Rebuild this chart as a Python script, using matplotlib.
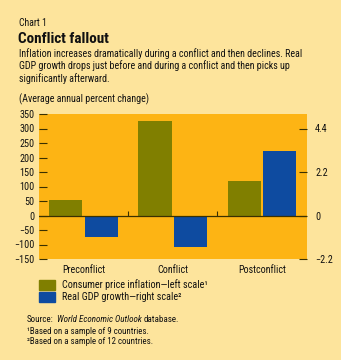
import matplotlib
matplotlib.use("Agg")
import matplotlib.pyplot as plt
from matplotlib.patches import Rectangle
import numpy as np

plt.rcParams['font.family'] = ['Roboto Condensed', 'DejaVu Sans']

# data
categories = ['Preconflict', 'Conflict', 'Postconflict']
cpi_inflation = [55, 325, 120]        # left scale, percent
gdp_growth = [-1.1, -1.6, 3.25]       # right scale, percent
left_ticks = [-150, -100, -50, 0, 50, 100, 150, 200, 250, 300, 350]
right_ticks = [-2.2, 0, 2.2, 4.4]

BG = '#fde49c'
PLOT_BG = '#fdb414'
OLIVE = '#807f00'
BLUE = '#0e4ba0'
DARK = '#3a3000'
TXT = '#111111'

W, H = 341, 360
fig = plt.figure(figsize=(W / 100, H / 100), dpi=100)
fig.patch.set_facecolor(BG)


def fx(px):
    return px / W


def fy(py):
    return 1 - py / H


# header
fig.text(fx(19), fy(23), 'Chart 1', fontsize=7, color=TXT, va='center')
fig.text(fx(18.5), fy(39), 'Conflict fallout', fontsize=11, fontweight='bold',
         color=TXT, va='center')
subtitle = ['Inflation increases dramatically during a conflict and then declines. Real',
            'GDP growth drops just before and during a conflict and then picks up',
            'significantly afterward.']
for i, line in enumerate(subtitle):
    fig.text(fx(19), fy(53.5 + 12.5 * i), line, fontsize=7.2, color=TXT, va='center')
fig.text(fx(19), fy(99), '(Average annual percent change)', fontsize=7.2, color=TXT, va='center')

# axes
left, right, top, bottom = 39, 306.7, 114, 259
ax = fig.add_axes([fx(left), fy(bottom), (right - left) / W, (bottom - top) / H])
ax.set_facecolor(PLOT_BG)
for s in ax.spines.values():
    s.set_visible(False)

x = np.arange(len(categories))
bw = 0.37
ax.bar(x - 0.2, cpi_inflation, width=bw, color=OLIVE, zorder=2)
ax.set_ylim(-150, 350)
ax.set_xlim(-0.5, len(categories) - 0.5)
ax.set_yticks(left_ticks)
ax.set_yticklabels([f'{t}' if t >= 0 else f'\u2212{-t}' for t in left_ticks])
ax.tick_params(axis='y', direction='in', length=6, width=0.8, color=DARK,
               labelsize=7.3, labelcolor=TXT, pad=3)
ax.set_xticks(x)
ax.set_xticklabels(categories)
ax.tick_params(axis='x', length=0, labelsize=7.2, labelcolor=TXT, pad=4)

ax2 = ax.twinx()
for s in ax2.spines.values():
    s.set_visible(False)
ax2.bar(x + 0.2, gdp_growth, width=bw, color=BLUE, zorder=2)
ax2.set_ylim(-2.2, 2.2 * 350 / 150)
ax2.set_yticks(right_ticks)
ax2.set_yticklabels(['\u22122.2', '0', '2.2', '4.4'])
ax2.tick_params(axis='y', direction='in', length=6, width=0.8, color=DARK,
                labelsize=7.3, labelcolor=TXT, pad=6)

# zero line and category separators
ax2.axhline(0, color=DARK, lw=0.9, zorder=3)
ax.vlines(x[:-1] + 0.5, 0, 14, color=DARK, lw=0.8, zorder=3)

# legend
legend_items = [(OLIVE, 'Consumer price inflation\u2014left scale\u00b9'),
                (BLUE, 'Real GDP growth\u2014right scale\u00b2')]
for i, (c, label) in enumerate(legend_items):
    y0 = 280 + 12.3 * i
    fig.patches.append(Rectangle((fx(39), fy(y0 + 9.5)), 16 / W, 9.5 / H,
                                 transform=fig.transFigure, color=c))
    fig.text(fx(62), fy(y0 + 5), label, fontsize=7.3, color=TXT, va='center')

# source and notes
fig.canvas.draw()
r = fig.canvas.get_renderer()
t1 = fig.text(fx(27), fy(319), 'Source:', fontsize=6.5, color=TXT, va='center')
bb = t1.get_window_extent(r)
t2 = fig.text((bb.x1 + 3) / W, fy(319), 'World Economic Outlook', fontsize=6.5,
              style='italic', color=TXT, va='center')
bb2 = t2.get_window_extent(r)
fig.text((bb2.x1 + 2.5) / W, fy(319), 'database.', fontsize=6.5, color=TXT, va='center')
fig.text(fx(27), fy(331), '\u00b9Based on a sample of 9 countries.', fontsize=6.4,
         color=TXT, va='center')
fig.text(fx(27), fy(342), '\u00b2Based on a sample of 12 countries.', fontsize=6.4,
         color=TXT, va='center')

fig.savefig('out.png', dpi=100, facecolor=BG)
